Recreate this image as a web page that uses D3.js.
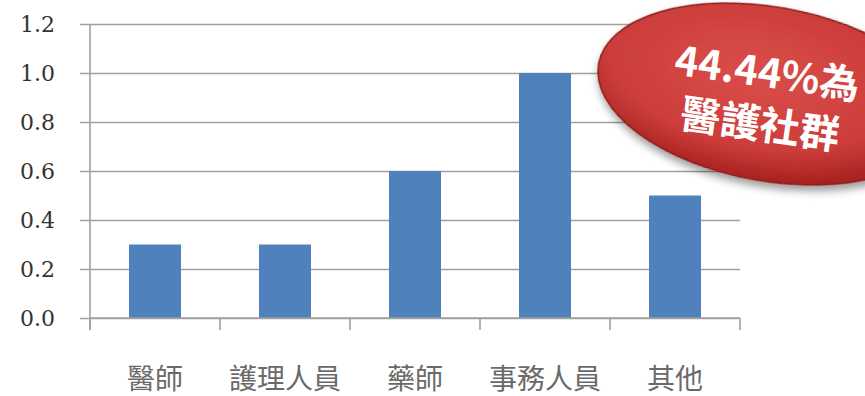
<!DOCTYPE html>
<html><head><meta charset="utf-8">
<script src="https://cdn.jsdelivr.net/npm/d3@7"></script>
<style>body{margin:0;background:#fff}svg{display:block}</style>
</head><body>
<svg id="c" width="865" height="396"></svg>
<script>
const categories = ["醫師","護理人員","藥師","事務人員","其他"];
const values = [0.3,0.3,0.6,1.0,0.5];
const yTicks = [0,0.2,0.4,0.6,0.8,1.0,1.2];
const calloutLines = ["44.44%為","醫護社群"];

const svg = d3.select("#c");
const L=90,R=740,T=24,B=318;
const x = d3.scaleBand().domain(categories).range([L,R]).paddingInner(0.6).paddingOuter(0.3);
const y = d3.scaleLinear().domain([0,1.2]).range([B,T]);
const grid="#a0a0a0";

// gridlines + y ticks
const ya = svg.append("g").attr("transform",`translate(${L},0)`)
  .call(d3.axisLeft(y).tickValues(yTicks).tickFormat(d3.format(".1f")).tickSize(10).tickSizeOuter(0));
ya.select(".domain").remove();
ya.selectAll(".tick line").attr("stroke",grid).attr("stroke-width",1.6).attr("x2",R-L).attr("x1",-10);
ya.selectAll(".tick text").attr("x",-35).attr("font-family","DejaVu Serif").attr("font-size",22).attr("fill","#333");

// y axis line
svg.append("line").attr("x1",L).attr("x2",L).attr("y1",T).attr("y2",B+12).attr("stroke",grid).attr("stroke-width",1.6);

// bars
svg.append("g").selectAll("rect").data(values).join("rect")
  .attr("x",(d,i)=>x(categories[i])).attr("width",x.bandwidth())
  .attr("y",d=>y(d)).attr("height",d=>B-y(d)).attr("fill","#4F81BD");

// x axis
const step = x.step();
const bounds = d3.range(categories.length+1).map(i=>L+i*step);
svg.append("line").attr("x1",L).attr("x2",R).attr("y1",B).attr("y2",B).attr("stroke",grid).attr("stroke-width",1.6);
svg.append("g").selectAll("line").data(bounds).join("line")
  .attr("x1",d=>d).attr("x2",d=>d).attr("y1",B).attr("y2",B+12).attr("stroke",grid).attr("stroke-width",1.6);
svg.append("g").selectAll("text").data(categories).join("text")
  .attr("x",d=>x(d)+x.bandwidth()/2).attr("y",389).attr("text-anchor","middle")
  .attr("font-family","Noto Sans CJK TC").attr("font-size",28).attr("fill","#6a6a6a").text(d=>d);

// callout
const defs = svg.append("defs");
const rg = defs.append("radialGradient").attr("id","rg").attr("cx","45%").attr("cy","40%").attr("r","60%");
rg.append("stop").attr("offset","0%").attr("stop-color","#da4e4a");
rg.append("stop").attr("offset","70%").attr("stop-color","#cc3d3a");
rg.append("stop").attr("offset","100%").attr("stop-color","#a82220");
const f = defs.append("filter").attr("id","sh").attr("x","-20%").attr("y","-20%").attr("width","140%").attr("height","150%");
f.append("feGaussianBlur").attr("in","SourceAlpha").attr("stdDeviation",4);
f.append("feOffset").attr("dx",2).attr("dy",5).attr("result","b");
f.append("feComponentTransfer").append("feFuncA").attr("type","linear").attr("slope",0.4);
const m=f.append("feMerge"); m.append("feMergeNode"); m.append("feMergeNode").attr("in","SourceGraphic");

const cg = svg.append("g").attr("transform","translate(770,94) rotate(10)");
cg.append("ellipse").attr("rx",174).attr("ry",87).attr("fill","url(#rg)").attr("stroke","#8e1c1a").attr("stroke-width",1.5).attr("filter","url(#sh)");
const tg = svg.append("g").attr("transform","translate(764,96) rotate(8)");
tg.selectAll("text").data(calloutLines).join("text")
  .attr("x",0).attr("y",(d,i)=>i===0?-26:26).attr("text-anchor","middle").attr("dominant-baseline","central")
  .attr("font-family","Noto Sans CJK TC").attr("font-weight","bold").attr("font-size",40).attr("fill","#fff").text(d=>d);
</script>
</body></html>
